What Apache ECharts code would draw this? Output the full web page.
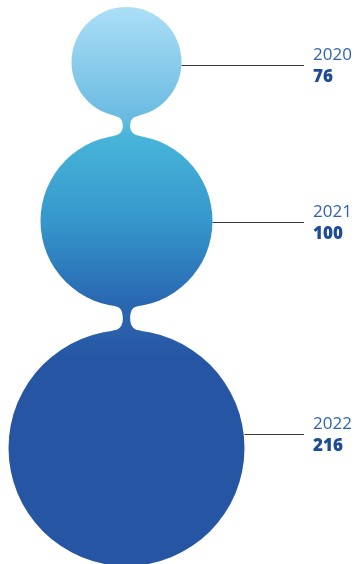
<!DOCTYPE html>
<html><head><meta charset="utf-8">
<script src="https://cdn.jsdelivr.net/npm/echarts@6/dist/echarts.min.js"></script>
<style>html,body{margin:0;padding:0;background:#fff}#c{width:354px;height:564px}</style>
</head><body><div id="c"></div>
<script>
// ---- data ----
const years = ['2020', '2021', '2022'];
const values = [76, 100, 216];

// ---- layout / style ----
const RADII = [55, 86, 118];
const CX = 126.5, TOP = 7;
const NECKS = [18, 23];
const LEADER_OFF = [3, 1, -14];
const LABEL_X = 313, LEADER_END = 304;
const CIRCLE_FILLS = [
  [[0, '#acdff7'], [1, '#6abbe1']],
  [[0, '#48b5d9'], [0.5, '#3597cb'], [1, '#2865b0']],
  [[0, '#2a60ab'], [0.12, '#2656a3'], [1, '#2656a3']]
];
const NECK_FILLS = [
  [[0, '#6cbce1'], [1, '#49b5d9']],
  [[0, '#2866b0'], [1, '#2a5fab']]
];
const YEAR_COLOR = '#2f63b1', VALUE_COLOR = '#1e4c96';

const cys = [];
(function () {
  let y = TOP;
  RADII.forEach((r, i) => { const cy = y + r; cys.push(cy); y = cy + r + (NECKS[i] || 0); });
})();

function neckPath(b) {
  const a = b - 1;
  const rA = RADII[a], rB = RADII[b], cyA = cys[a], cyB = cys[b];
  const yAb = cyA + rA, yBt = cyB - rB;
  const mid = (yAb + yBt) / 2, hw = 3.6, dA = 14, dB = 16, k = 6;
  const hA = Math.sqrt(rA * rA - dA * dA), yA = cyA + hA;
  const hB = Math.sqrt(rB * rB - dB * dB), yB = cyB - hB;
  const P0 = [CX - dA, yA];
  const c1 = [CX - dA + k * hA / rA, yA + k * dA / rA];
  const c2 = [CX - hw - 0.3, yAb + 0.5];
  const N = [CX - hw, mid];
  const c3 = [CX - hw - 0.3, yBt - 0.5];
  const Q0 = [CX - dB, yB];
  const c4 = [CX - dB + k * hB / rB, yB - k * dB / rB];
  const mx = p => [2 * CX - p[0], p[1]];
  const s = p => p[0].toFixed(2) + ' ' + p[1].toFixed(2);
  const d = 'M' + s(P0) + ' C' + s(c1) + ' ' + s(c2) + ' ' + s(N) +
    ' C' + s(c3) + ' ' + s(c4) + ' ' + s(Q0) +
    ' L' + s(mx(Q0)) + ' C' + s(mx(c4)) + ' ' + s(mx(c3)) + ' ' + s(mx(N)) +
    ' C' + s(mx(c2)) + ' ' + s(mx(c1)) + ' ' + s(mx(P0)) + ' Z';
  return { d, yA, yB };
}

const chart = echarts.init(document.getElementById('c'), null, { renderer: 'canvas' });
chart.setOption({
  animation: false,
  series: [{
    type: 'custom',
    coordinateSystem: 'none',
    data: years.map((y, i) => [i, values[i]]),
    renderItem: function (params, api) {
      const i = params.dataIndex;
      const r = RADII[i], cy = cys[i];
      const children = [];
      children.push({
        type: 'circle', z2: 10,
        shape: { cx: CX, cy: cy, r: r },
        style: { fill: new echarts.graphic.LinearGradient(0, 0, 0, 1, CIRCLE_FILLS[i].map(s => ({ offset: s[0], color: s[1] }))) }
      });
      if (i > 0) {
        const n = neckPath(i);
        children.push({
          type: 'path', z2: 5,
          shape: { pathData: n.d },
          style: { fill: new echarts.graphic.LinearGradient(0, n.yA, 0, n.yB, NECK_FILLS[i - 1].map(s => ({ offset: s[0], color: s[1] })), true) }
        });
      }
      const ly = Math.round(cy + LEADER_OFF[i]) + 0.5;
      children.push({
        type: 'line', z2: 12,
        shape: { x1: CX + r, y1: ly, x2: LEADER_END, y2: ly },
        style: { stroke: '#3a3a3a', lineWidth: 1 }
      });
      children.push({
        type: 'text', z2: 12,
        style: { text: years[api.value(0)], x: LABEL_X, y: ly - 10.5, fill: YEAR_COLOR,
          fontSize: 17, fontFamily: 'Open Sans', fontWeight: 'normal', align: 'left', verticalAlign: 'middle' }
      });
      children.push({
        type: 'text', z2: 12,
        style: { text: String(api.value(1)), x: LABEL_X, y: ly + 12, fill: VALUE_COLOR,
          fontSize: 17, fontFamily: 'Open Sans', fontWeight: 800, align: 'left', verticalAlign: 'middle' }
      });
      return { type: 'group', children: children };
    }
  }]
});
</script>
</body></html>
